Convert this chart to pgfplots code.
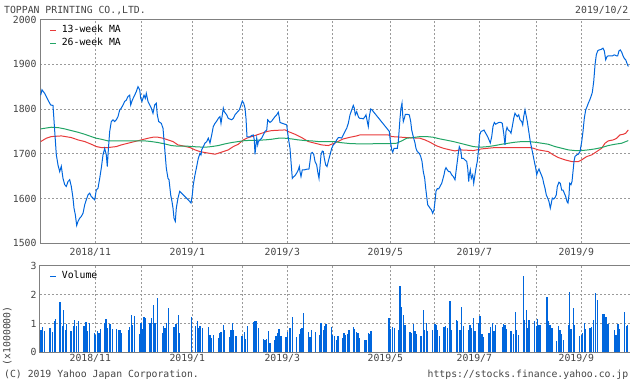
\documentclass[border=0pt]{standalone}
\usepackage{pgfplots}
\pgfplotsset{compat=1.18}
\usepackage{fontspec}
\setmainfont{DejaVu Sans Mono}
\definecolor{priceblue}{HTML}{0066DD}
\definecolor{mared}{HTML}{E83A3A}
\definecolor{magreen}{HTML}{22A566}
\definecolor{framegray}{HTML}{808080}
\definecolor{gridgray}{HTML}{9A9A9A}
\definecolor{txtgray}{HTML}{444444}
\newcommand{\chartfont}{\fontsize{9.8}{10}\selectfont}
\pgfplotsset{
  yahoo/.style={
    scale only axis,
    width=591pt,
    xmin=40, xmax=631,
    axis line style={framegray, line width=1pt},
    major tick length=0pt,
    xtick={95.5,141.5,192.5,242.5,287.5,332.5,390.5,434.5,479.5,536.5,581.5},
    xticklabels={2018/11,,2019/1,,2019/3,,2019/5,,2019/7,,2019/9},
    grid=major,
    major grid style={gridgray, line width=0.8pt, dash pattern=on 2pt off 2pt},
    ticklabel style={font=\chartfont, text=txtgray},
    /pgf/number format/assume math mode=true,
    /pgf/number format/1000 sep={},
    legend cell align=left,
    legend style={at={(0,1)}, anchor=north west, xshift=9.5pt, yshift=-4.5pt,
      draw=none, fill=none, inner sep=0pt, row sep=1pt, font=\chartfont,
      nodes={inner sep=1.5pt, text height=7pt, text depth=2pt}},
  },
  dashimg/.style={legend image code/.code={\draw[#1, line width=1.3pt] (0pt,0pt) -- (6pt,0pt); \path (9.5pt,0pt);}}
}
\begin{document}
\begin{tikzpicture}
\useasboundingbox (0,0) rectangle (630pt,382pt);
% ---------------- price panel
\begin{axis}[yahoo, at={(40pt,138.7pt)}, anchor=south west, height=223.8pt,
  ymin=1500, ymax=2000, ytick={1500,1600,1700,1800,1900,2000},
  xticklabel style={xshift=-5.2pt, yshift=-1.4pt}]
\addplot[mared, line width=1pt, dashimg=mared] coordinates {
(40.7,1727.3) (46.3,1734.7) (51.3,1738.4) (61.3,1739.9) (71.3,1736.2) (78,1731)
(84.7,1727.3) (91.3,1721.3) (96.3,1716.1) (101.3,1713.9) (108,1713.9) (116.3,1716.1)
(121.3,1719.8) (128,1723.6) (134.7,1727.3) (141.3,1731) (148,1734.7) (153,1737)
(158,1737) (163,1734.7) (168,1731) (173,1727.3) (178,1719.8) (183,1717.6)
(190,1713.9) (195,1708.7) (200,1704.9) (205,1702.7) (215,1699) (218.3,1701.2)
(223.3,1704.9) (228.3,1708.7) (233.3,1716.1) (238.3,1721.3) (243.3,1731) (248.3,1736.2)
(255,1740.7) (261.7,1745.9) (266.7,1749.6) (271.7,1751.8) (285,1753.3) (288.3,1749.6)
(295,1743.6) (301.7,1736.2) (308.3,1727.3) (315,1723.6) (321.7,1719.8) (328.3,1718.4)
(335,1724.3) (343.3,1733.2) (350,1736.9) (356.7,1739.9) (360,1742.2) (388.3,1742.2)
(391.7,1738.4) (406.7,1736.2) (420,1734.7) (425,1731) (430,1725.8) (436.7,1717.6)
(443.3,1712.4) (450,1708.7) (455,1706.4) (460,1708.7) (473.3,1707.2) (481.7,1710.9)
(488.3,1712.4) (495,1713.9) (530,1713.9) (533.3,1712.4) (538.3,1708.7) (548.3,1704.9)
(553.3,1697.5) (558.3,1691.6) (565,1686.4) (571.7,1682.6) (578.3,1682.6) (581.7,1686.4)
(586.7,1693.8) (591.7,1697.5) (596.7,1704.9) (601.7,1712.4) (605,1723.6) (608.3,1728.8)
(613.3,1731) (616.7,1734.7) (620,1742.2) (623.3,1743.6) (625.7,1745.9) (628.3,1753.3)
};
\addlegendentry{13-week MA}
\addplot[magreen, line width=1pt, dashimg=magreen] coordinates {
(40.7,1755.6) (44.7,1757) (51.3,1759.3) (58,1758.5) (64.7,1755.6) (71.3,1751.8)
(78,1748.1) (84.7,1743.6) (91.3,1738.4) (96.3,1734.7) (101.3,1732.5) (108,1728.8)
(144.7,1728.8) (151.3,1727.3) (158,1725.1) (164.7,1722.1) (171.3,1718.4) (178,1716.9)
(188,1716.9) (191.7,1716.1) (205,1714.6) (211.7,1716.1) (218.3,1718.4) (225,1722.1)
(231.7,1725.1) (238.3,1727.3) (245,1729.5) (258.3,1730.3) (265,1731) (271.7,1732.5)
(278.3,1734.7) (285,1734.7) (291.7,1733.2) (298.3,1731) (305,1729.5) (311.7,1728.8)
(318.3,1727.3) (335,1727.3) (340,1725.1) (350,1722.8) (360,1722.1) (390,1722.8)
(396.7,1723.6) (401.7,1728.8) (406.7,1734.7) (413.3,1736.2) (420,1738.4) (426.7,1738.4)
(433.3,1736.9) (440,1733.2) (446.7,1730.3) (453.3,1727.3) (460,1723.6) (466.7,1719.8)
(473.3,1716.1) (480,1714.6) (488.3,1716.1) (495,1718.4) (501.7,1721.3) (508.3,1723.6)
(515,1725.8) (521.7,1727.3) (528.3,1727.3) (535,1725.8) (541.7,1723.6) (548.3,1721.3)
(555,1716.1) (561.7,1712.4) (568.3,1708.7) (575,1707.2) (581.7,1707.2) (588.3,1708.7)
(595,1710.9) (601.7,1713.9) (608.3,1718.4) (615,1721.3) (621.7,1723.6) (628.3,1729.5)
};
\addlegendentry{26-week MA}
\addplot[priceblue, line width=1pt, forget plot] coordinates {
(40.7,1831) (42,1843) (44.7,1835) (48,1820) (50.7,1809) (53,1808) (56.3,1698)
(58,1675) (59.7,1660) (61.3,1672) (63,1645) (64.7,1631) (66.3,1627) (68,1638)
(69.7,1642) (71.3,1627) (73,1601) (74,1578.5) (75.3,1564) (76.7,1540) (78,1549)
(79.7,1556) (81.3,1560) (83,1567) (84.7,1586) (86.3,1597) (88,1608) (89.7,1612)
(91.3,1604.5) (93,1601) (94.7,1597) (96.3,1619) (98,1623) (99.7,1645) (101.3,1668)
(103,1697.5) (104.7,1712) (106.3,1697.5) (107.3,1671.5) (108,1697.5) (108.7,1720)
(109.7,1750) (111.3,1772) (113,1776) (114.7,1772) (116.3,1776) (118,1783) (119.7,1798)
(121.3,1802) (123,1809) (124.7,1817) (126.3,1820) (128,1828) (129.7,1831) (130.7,1809)
(132.3,1820) (134.7,1831) (136.3,1839) (138,1850) (139.7,1843) (140.7,1824) (142,1817)
(144,1831) (145.3,1824) (146.3,1835) (148,1817) (149.7,1809) (151.3,1802) (153,1790.5)
(154.7,1809) (156.3,1813) (157.3,1787) (158.7,1772) (161.3,1768) (163,1757) (164.7,1712)
(166.3,1668) (168,1645) (169,1642) (170.7,1608) (172,1593) (173,1578.5) (174,1556)
(175.3,1549) (176.3,1578.5) (178,1601) (179.7,1616) (188.3,1597) (191,1590)
(192.3,1608) (193.3,1631) (195,1653) (196.7,1671.5) (198.3,1690) (200,1701) (201,1697.5)
(201.7,1709) (203.3,1716) (205,1724) (206.7,1727) (208.3,1735) (210,1724) (211.7,1742)
(213.3,1761) (215,1768) (216.7,1773) (218.3,1779) (220,1783) (221,1768) (222.3,1787)
(223.3,1802) (224.3,1794) (226.7,1787) (228.3,1779) (231.7,1776) (233.3,1779) (235,1787)
(237.7,1794) (239.3,1798) (241,1809) (242.3,1818) (243.7,1813) (245,1802) (246,1779)
(247,1738) (250,1738) (251.7,1741) (253.3,1742) (254.3,1731) (255,1699) (256,1720)
(256.7,1735) (257.7,1720) (258.3,1727) (260,1731) (261.7,1735) (263.3,1742) (265,1750)
(266.7,1753) (267.7,1776) (270,1770) (271.7,1773) (273.3,1778) (275,1783) (276.7,1787)
(278.3,1793) (279.3,1781) (280,1770) (282.3,1768) (285,1766) (286.7,1764.5) (288.3,1736)
(290,1712) (291,1683) (292.3,1645) (293.3,1648) (295,1651) (296.7,1657) (298.3,1664)
(299.3,1671.5) (300,1660) (301,1649) (302.3,1664) (304.3,1664) (306.7,1665.5) (309,1666)
(310,1683) (311,1701) (312.3,1703) (313.7,1699) (315,1683) (316.7,1675) (317.7,1660)
(319,1645) (320,1671.5) (321,1697.5) (322.3,1706) (323.3,1705) (324.3,1690) (325.7,1675)
(327,1671.5) (328.3,1683) (330,1697.5) (331.7,1712) (333.3,1720) (335,1724)
(336.7,1731) (338.3,1736) (340,1736) (341.7,1735) (343.3,1742) (345,1750) (346.7,1757)
(348.3,1768) (350,1787) (351.7,1798) (353.3,1808) (354.3,1802) (355.3,1787) (356.7,1794)
(357.7,1787) (358.7,1781) (360,1779) (361.7,1779) (363.3,1778) (365,1783) (366,1787)
(367.3,1772) (368.3,1761) (369.3,1783) (370.7,1800) (372,1798) (389.3,1750)
(390,1735) (390.7,1724) (391.7,1709) (392.7,1703.5) (394,1712) (395.7,1712) (397.3,1712)
(398.3,1727) (399.3,1757) (400,1779) (401,1802) (402,1813) (402.7,1787) (403.3,1772)
(404.3,1779) (405.3,1788) (407.3,1788) (409.3,1787) (410.7,1772) (411.7,1753) (413.3,1738)
(415,1724) (416,1712) (417.3,1705) (419.3,1701) (420.7,1694) (422,1683) (423.3,1660)
(424.7,1645) (425.7,1623) (426.7,1604.5) (427.7,1586) (429,1582) (430,1578.5) (431.3,1575)
(432.7,1567) (434,1575) (435,1593) (436,1616) (437.3,1622) (438.7,1621.6) (440,1627)
(441.7,1634) (442.7,1642) (444,1653) (445,1664) (446,1669) (447.3,1664) (448.7,1660)
(450,1660) (451.7,1653) (453.3,1649) (455,1642) (456,1660) (457.3,1683) (458.3,1701)
(459.3,1716) (460.7,1709) (461.7,1690) (463.3,1690) (465,1686) (466.7,1683) (467.7,1668)
(468.7,1638) (469.3,1653) (470.3,1664) (471.3,1645) (472.7,1653) (473.7,1634) (474.7,1649)
(476,1668) (477.3,1683) (478.7,1712) (479.7,1742) (481,1750) (482.3,1751) (484,1753)
(485.7,1746) (487.7,1738) (489,1731) (490.3,1724) (491.7,1738) (493,1761) (494.3,1770)
(495.7,1766) (497,1768) (499,1770) (501,1770) (502.3,1768) (503.7,1746) (505,1720)
(506,1750) (507,1759) (508.3,1753) (510,1750) (511,1746) (512.3,1761) (513.7,1779)
(515,1790.5) (516,1787) (517.3,1783) (518.7,1787) (520,1776) (521.7,1772) (522.7,1764.5)
(523.7,1783) (525,1798) (526,1787) (527.3,1772) (528.3,1757) (529.3,1742) (530.3,1727)
(531.7,1712) (533,1697.5) (534.3,1683) (535.7,1668) (536.7,1653) (537.7,1660) (539,1666)
(540,1660) (541.3,1653) (542.7,1645) (543.7,1634) (545,1623) (546.3,1608) (547.7,1601)
(549,1593) (550.3,1578.5) (551,1586) (552.3,1601) (553.7,1599) (555,1602) (556.3,1608)
(557.3,1627) (559,1636.5) (560.3,1634) (561.7,1619) (563,1619) (564.3,1612) (565.7,1604.5)
(567,1593) (568,1590) (569,1608) (569.7,1634) (571,1631) (572,1638) (573,1660) (574,1683)
(575,1694) (576.7,1697.5) (578.3,1699) (580,1705) (581.7,1727) (583,1750) (584.3,1779)
(585.7,1798) (587,1805) (588.3,1813) (589.7,1820) (591,1828) (592.3,1837) (593.7,1861)
(595,1898) (596.3,1921) (597.7,1930) (599,1932) (601,1933) (603,1936) (604.3,1930)
(605.7,1910) (607,1917) (608.3,1919) (610.3,1919) (612.3,1918.5) (614.3,1921) (616.3,1919)
(617.7,1919) (619,1930) (620.3,1932) (621.7,1927) (623,1919) (624.3,1913) (625.7,1910)
(627,1902) (628.3,1895)
};
\end{axis}
% ---------------- volume panel
\begin{axis}[yahoo, at={(40pt,29.7pt)}, anchor=south west, height=86.6pt,
  ymin=0, ymax=3, ytick={0,1,2,3},
  xticklabel style={xshift=-5.2pt, yshift=1.6pt},
  ylabel={(x1000000)},
  every axis y label/.style={at={(axis description cs:-0.0553,0.19)}, rotate=90,
    anchor=center, font=\chartfont, text=txtgray}]
\addplot[ycomb, priceblue, line width=1.2pt, dashimg=priceblue] coordinates {
(41,0.77) (42.3,0.87) (44.3,0.74) (50,0.84) (52.3,0.70) (54.3,1.08) (55.7,1.15) (60,1.74)
(62.3,0.91) (63.3,1.46) (65.7,0.77) (66.7,0.98) (71,0.75) (73.3,0.91) (74.3,1.12) (76.7,0.91)
(78.3,1.10) (83.3,0.91) (84.3,0.91) (86,1.05) (87.3,0.75) (89.3,1.0) (94.3,0.68) (95.7,0.60)
(97.3,0.75) (99,0.66) (100.7,0.81) (105,1.03) (106,1.15) (107.7,0.84) (110,0.98) (112.3,0.80)
(116.7,0.81) (119,0.77) (120.7,0.77) (121.7,0.68) (128.3,0.77) (129.3,0.87) (131.7,1.29)
(132.7,0.95) (134.3,1.26) (139.3,0.65) (141,1.0) (142.3,0.81) (144,1.21) (145,1.18) (149.3,1.0)
(150,1.01) (151.7,1.19) (153.3,1.65) (155,1.01) (157.3,1.88) (162.3,0.67) (163.3,0.9) (165,0.84)
(166.7,1.01) (168.3,1.53) (174,0.88) (176,0.99) (178.3,1.30) (179.3,0.67) (191.3,1.22)
(195.3,0.92) (197.3,1.07) (199,0.84) (200,0.92) (202.3,0.84) (208.3,0.88) (210,0.61)
(211.7,0.50) (213.3,0.61) (218.3,0.50) (220,0.67) (221,0.69) (223.3,0.96) (224.3,0.76)
(229.3,0.53) (231,0.76) (232.3,1.01) (233.3,0.76) (236,0.55) (241.7,0.55) (242.7,0.58)
(244.3,0.69) (245.7,0.46) (247.3,0.92) (253.3,1.04) (255,1.07) (256.7,1.07) (258.3,0.84)
(263.3,0.46) (265,0.42) (266.7,0.46) (268.3,0.73) (270,0.32) (274.3,0.44) (276,0.58)
(277.7,0.67) (279,0.81) (281,0.58) (286,0.53) (287.3,0.69) (290,0.84) (292.7,1.22)
(296.7,0.53) (299.3,0.65) (300.7,0.81) (302,0.84) (303.3,1.36) (308.3,0.69) (310,0.53)
(311.7,0.76) (315.7,0.69) (319.3,0.61) (321,1.01) (323.3,0.76) (324.7,0.92) (326,0.99)
(331.3,0.88) (332.7,0.61) (334.3,0.55) (336.7,0.42) (338,0.55) (342.3,0.50) (344,0.67)
(345.7,0.61) (347.3,0.65) (349,0.78) (353.3,0.88) (354.7,0.81) (356.7,0.69) (358,0.67)
(359.3,0.50) (365,0.44) (366.7,0.44) (368.3,0.67) (369.3,0.65) (371,0.73) (389,1.19)
(390,0.81) (392.3,0.88) (394.3,0.84) (398.3,0.76) (400,2.31) (401.7,1.57) (403.3,1.30)
(405,0.96) (410,0.69) (411.3,0.67) (413.3,0.99) (415,0.73) (416.7,0.65) (421,0.58)
(423.3,1.48) (424.3,0.76) (426.7,1.01) (427.7,0.73) (432.7,0.76) (435,0.99) (436,0.96)
(437.3,0.76) (439.3,0.58) (444,0.88) (445.7,0.92) (447.7,0.84) (450,1.76) (451.7,0.76)
(456.7,1.13) (457.7,1.07) (460,0.76) (461.7,1.57) (463.3,0.92) (468.3,0.76) (470,0.96)
(471.7,0.84) (473.3,1.19) (475,0.73) (478.3,1.01) (479.3,1.27) (480.7,1.26) (482,0.63)
(483.3,0.52) (489,0.66) (490.3,0.89) (492.3,1.0) (494,0.74) (495.3,0.95) (502.3,0.89)
(503.7,0.97) (505,0.95) (506,0.81) (511,0.74) (513.3,0.63) (515.3,1.40) (516.7,0.77)
(518.3,0.60) (523.3,2.64) (524.3,1.12) (526.3,1.46) (527.3,0.85) (529,1.12) (534.7,1.08)
(536.3,0.92) (537.7,1.15) (539,0.95) (540,0.95) (547,1.91) (548,1.08) (550,0.95) (552,0.85)
(556.3,0.39) (558.3,0.91) (560,0.77) (561.3,0.63) (563.3,0.43) (568.7,0.95) (569.7,2.10)
(571,0.81) (573.3,1.55) (574.7,0.95) (579.7,0.57) (581.3,0.60) (582.7,0.66) (584.3,1.0)
(585.3,0.81) (590,0.85) (591.7,0.89) (593.3,1.12) (595.3,2.06) (597.3,1.81) (603,1.33)
(604.3,1.33) (606,1.21) (608,0.98) (614.3,0.77) (616,0.60) (618,0.98) (619.3,0.81)
(624.3,1.41) (626.3,0.91) (627.3,0.95)
};
\addlegendentry{Volume}
\end{axis}
% ---------------- header and footer
\node[anchor=base west, inner sep=0pt, font=\chartfont, text=txtgray] at (4pt,368.8pt) {TOPPAN PRINTING CO.,LTD.};
\node[anchor=base east, inner sep=0pt, font=\chartfont, text=txtgray] at (628.5pt,368.8pt) {2019/10/2};
\node[anchor=base west, inner sep=0pt, font=\chartfont, text=txtgray] at (4pt,4.5pt) {(C) 2019 Yahoo Japan Corporation.};
\node[anchor=base east, inner sep=0pt, font=\chartfont, text=txtgray] at (628.5pt,4.5pt) {https://stocks.finance.yahoo.co.jp};
\end{tikzpicture}
\end{document}
